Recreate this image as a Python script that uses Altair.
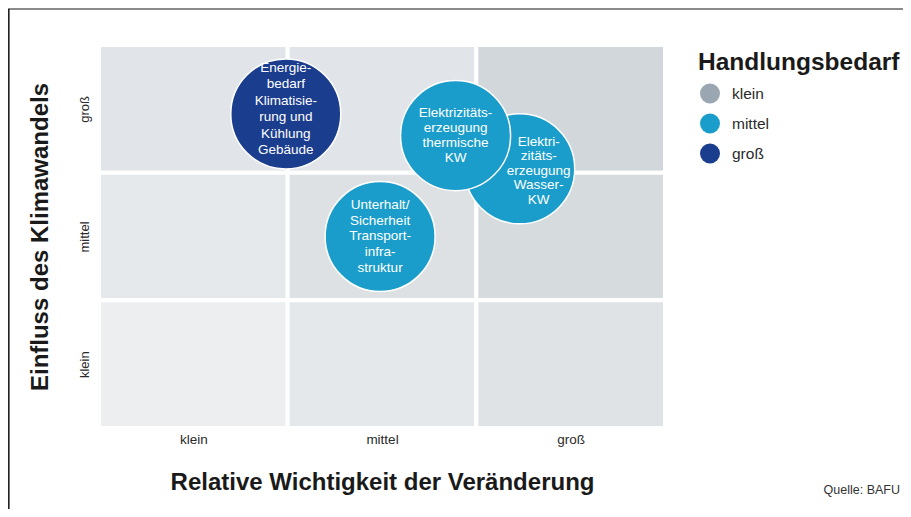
import json
import altair as alt
import pandas as pd

# ---------------- data ----------------
level_labels = ["klein", "mittel", "groß"]          # axis tick labels (both axes)

# 3x3 background grid (column index = x category, row index = y category)
cell_col = [0, 1, 2, 0, 1, 2, 0, 1, 2]
cell_row = [2, 2, 2, 1, 1, 1, 0, 0, 0]
cell_id = ["c1", "c2", "c3", "c4", "c5", "c6", "c7", "c8", "c9"]
cell_colors = ["#e1e4e8", "#e1e4e8", "#d2d7db",
               "#e6e9ec", "#dde1e4", "#d6dbde",
               "#eceef0", "#e5e8eb", "#e0e3e6"]

# bubbles (drawn in this order)
names = ["Energie", "Wasser", "Thermisch", "Unterhalt"]
importance = [0.99, 2.23, 1.89, 1.49]     # x: Relative Wichtigkeit der Veränderung
impact = [2.46, 2.03, 2.29, 1.50]         # y: Einfluss des Klimawandels
need = ["groß", "mittel", "mittel", "mittel"]
texts = [
    "Energie-\nbedarf\nKlimatisie-\nrung und\nKühlung\nGebäude",
    "Elektri-\nzitäts-\nerzeugung\nWasser-\nKW",
    "Elektrizitäts-\nerzeugung\nthermische\nKW",
    "Unterhalt/\nSicherheit\nTransport-\ninfra-\nstruktur",
]
need_levels = ["klein", "mittel", "groß"]
need_colors = ["#9aa6b2", "#1a9dca", "#1b3d8e"]

source_text = "Quelle: BAFU"

# ---------------- tables ----------------
cells = pd.DataFrame({
    "id": cell_id,
    "x0": cell_col,
    "x1": [c + 1 for c in cell_col],
    "y0": cell_row,
    "y1": [r + 1 for r in cell_row],
})
bubbles = pd.DataFrame({
    "name": names, "x": importance, "y": impact,
    "Handlungsbedarf": need, "label": texts,
})

FONT = "Liberation Sans"
label_expr = json.dumps(level_labels, ensure_ascii=False) + "[floor(datum.value)]"

xs = alt.Scale(domain=[0, 3], nice=False, zero=False)
ys = alt.Scale(domain=[0, 3], nice=False, zero=False)

x_axis = alt.Axis(
    values=[0.5, 1.5, 2.5], labelExpr=label_expr, title="Relative Wichtigkeit der Veränderung",
    domain=False, ticks=False, tickSize=0, grid=False, labelFont=FONT, labelFontSize=13.5,
    labelColor="#2a2a2a", labelPadding=4, titleFont=FONT, titleFontSize=24,
    titleFontWeight="bold", titleColor="#1a1a1a", titlePadding=25,
)
y_axis = alt.Axis(
    values=[0.5, 1.5, 2.5], labelExpr=label_expr, title="Einfluss des Klimawandels",
    domain=False, ticks=False, tickSize=0, grid=False, labelFont=FONT, labelFontSize=13,
    labelColor="#2a2a2a", labelPadding=8, labelAngle=270, labelAlign="center",
    labelBaseline="bottom", titleFont=FONT, titleFontSize=24, titleFontWeight="bold",
    titleColor="#1a1a1a", titlePadding=26,
)

grid = alt.Chart(cells).mark_rect(stroke="white", strokeWidth=4).encode(
    x=alt.X("x0:Q", scale=xs, axis=x_axis),
    x2="x1:Q",
    y=alt.Y("y0:Q", scale=ys, axis=y_axis),
    y2="y1:Q",
    fill=alt.Fill("id:N", scale=alt.Scale(domain=cell_id, range=cell_colors), legend=None),
)

circles = alt.Chart(bubbles).mark_circle(
    size=12100, opacity=1, stroke="white", strokeWidth=1.5
).encode(
    x=alt.X("x:Q", scale=xs),
    y=alt.Y("y:Q", scale=ys),
    color=alt.Color(
        "Handlungsbedarf:N",
        scale=alt.Scale(domain=need_levels, range=need_colors),
        legend=alt.Legend(
            orient="none", legendX=599, legendY=6, title="Handlungsbedarf",
            titleFont=FONT, titleFontSize=24.5, titleFontWeight="bold", titleColor="#1a1a1a",
            titleLimit=400, titlePadding=8, labelFont=FONT, labelFontSize=15.5,
            labelColor="#2a2a2a", symbolType="circle", symbolSize=400, symbolStrokeWidth=0,
            symbolOpacity=1, symbolOffset=2, labelOffset=12, rowPadding=10, padding=0,
        ),
    ),
)

def text_layer(name, n_lines, lh, dx=0, dy=0):
    return alt.Chart(bubbles).transform_filter(alt.datum.name == name).mark_text(
        font=FONT, fontSize=13.5, color="white", lineBreak="\n", lineHeight=lh,
        align="center", baseline="middle", dx=dx, dy=dy - (n_lines - 1) * lh / 2
    ).encode(x=alt.X("x:Q", scale=xs), y=alt.Y("y:Q", scale=ys), text="label:N")

t_energy = text_layer("Energie", 6, 16.4, dy=-5)
t_water = text_layer("Wasser", 5, 14.5, dx=19, dy=2)
t_thermal = text_layer("Thermisch", 4, 15)
t_maint = text_layer("Unterhalt", 5, 15.8)

# scan frame lines and source note
frame_top = alt.Chart(cells).mark_rule(color="#8a8a8a", strokeWidth=2).encode(
    x=alt.value(-91), x2=alt.value(806), y=alt.value(-36)
)
frame_left = alt.Chart(cells).mark_rule(color="#222222", strokeWidth=1.2).encode(
    x=alt.value(-90.5), y=alt.value(-36), y2=alt.value(470)
)
source = alt.Chart(pd.DataFrame({"t": [source_text]})).mark_text(
    font=FONT, fontSize=12.5, color="#333333", align="right", baseline="middle"
).encode(x=alt.value(801), y=alt.value(445), text="t:N")

chart = alt.layer(
    grid, circles, t_energy, t_water, t_thermal, t_maint, frame_top, frame_left, source
).resolve_scale(fill="independent", color="independent").properties(
    width=566, height=383,
    autosize=alt.AutoSizeParams(type="none"),
    padding={"left": 91, "top": 37, "right": 238, "bottom": 81},
    background="white",
).configure_view(stroke=None)

chart.save("out.html", embed_options={"renderer": "svg", "actions": False})
